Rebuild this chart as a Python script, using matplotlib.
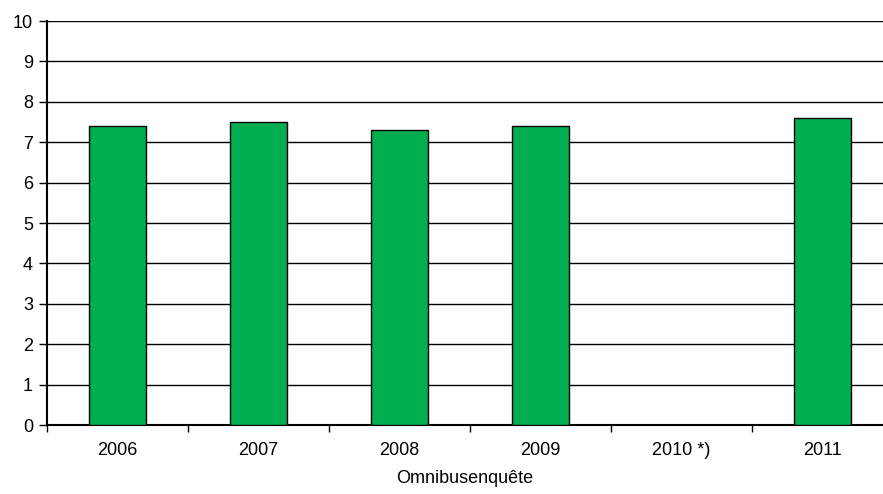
import numpy as np
import matplotlib.pyplot as plt
from matplotlib.ticker import FixedLocator, NullFormatter

plt.rcParams['font.family'] = ['Liberation Sans', 'DejaVu Sans']

years = ['2006', '2007', '2008', '2009', '2010 *)', '2011']
scores = [7.4, 7.5, 7.3, 7.4, np.nan, 7.6]

fig = plt.figure(figsize=(8.83, 4.94), dpi=100)
ax = fig.add_axes([47/883, 69/494, 836/883, 404/494])

x = np.arange(len(years))
ax.bar(x, scores, 0.40, color='#00AE4F', edgecolor='black', linewidth=1, zorder=3)

ax.set_ylim(0, 10)
ax.set_yticks(range(0, 11))
ax.yaxis.grid(True, color='black', linewidth=1)
ax.set_axisbelow(True)
ax.set_xlim(-0.5, 5.43)

ax.set_xticks(x)
ax.set_xticklabels(years)
ax.tick_params(axis='x', which='major', length=0, pad=12, labelsize=13)
ax.xaxis.set_minor_locator(FixedLocator(np.arange(-0.5, 6, 1)))
ax.xaxis.set_minor_formatter(NullFormatter())
ax.tick_params(axis='x', which='minor', length=5, width=1, color='black', direction='out')
ax.tick_params(axis='y', length=6, width=1, color='black', labelsize=13, pad=4)

for side in ['top', 'right']:
    ax.spines[side].set_visible(False)
ax.spines['left'].set_linewidth(1.5)
ax.spines['bottom'].set_linewidth(1.5)

ax.set_xlabel('Omnibusenquête', fontsize=13, labelpad=8)

fig.savefig('out.png', dpi=100)
